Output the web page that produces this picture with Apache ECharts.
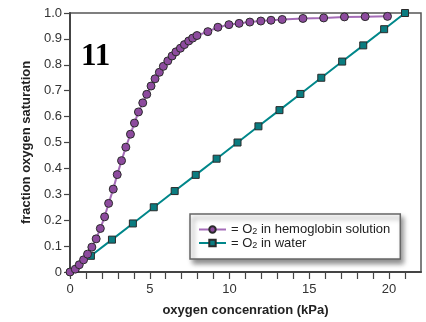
<!DOCTYPE html>
<html><head><meta charset="utf-8">
<script src="https://cdn.jsdelivr.net/npm/echarts@6/dist/echarts.min.js"></script>
<style>html,body{margin:0;padding:0;background:#fff}#c{width:426px;height:322px}</style>
</head><body><div id="c"></div>
<script>
const hbX = [0,0.33,0.58,0.85,1.1,1.37,1.64,1.9,2.17,2.42,2.71,2.96,3.23,3.5,3.79,4.04,4.29,4.56,4.81,5.08,5.33,5.6,5.85,6.13,6.4,6.64,6.92,7.17,7.44,7.69,7.96,8.64,9.27,9.96,10.6,11.27,11.96,12.6,13.3,14.6,15.9,17.2,18.5,19.9];
const hbY = [0,0.011,0.028,0.047,0.069,0.096,0.128,0.168,0.213,0.265,0.32,0.376,0.43,0.482,0.532,0.575,0.618,0.653,0.686,0.718,0.746,0.771,0.794,0.815,0.834,0.85,0.864,0.878,0.892,0.903,0.913,0.928,0.945,0.955,0.96,0.965,0.969,0.972,0.975,0.979,0.981,0.985,0.986,0.987];
const waterX = [0,1.31,2.63,3.94,5.25,6.56,7.88,9.19,10.5,11.81,13.13,14.44,15.75,17.06,18.38,19.69,21];
const waterY = [0,0.0625,0.125,0.1875,0.25,0.3125,0.375,0.4375,0.5,0.5625,0.625,0.6875,0.75,0.8125,0.875,0.9375,1.0];
const xTickLabels = [0,5,10,15,20];
const seriesNames = ['= O{sub|2} in hemoglobin solution','= O{sub|2} in water'];
const panelLabel = '11';

const chart = echarts.init(document.getElementById('c'), null, {renderer:'canvas'});
const font = 'Liberation Sans, Arial, sans-serif';
chart.setOption({
  animation:false,
  grid:{left:70,right:5,top:13,bottom:44,show:true,borderColor:'#555',borderWidth:1.5,backgroundColor:'transparent'},
  title:{text:panelLabel,left:76,top:36,textStyle:{fontFamily:'Liberation Serif, Times New Roman, serif',fontWeight:'bold',fontSize:31,color:'#000'}},
  legend:{
    orient:'vertical',left:190,top:214,
    padding:[9,10,9,8],itemGap:0,itemWidth:27,itemHeight:8,
    backgroundColor:'#fff',borderColor:'#666',borderWidth:1.5,
    shadowColor:'rgba(0,0,0,0.45)',shadowBlur:5,shadowOffsetX:3,shadowOffsetY:4,
    textStyle:{fontFamily:font,fontSize:13,color:'#222',padding:[0,0,0,0],
      rich:{sub:{fontFamily:font,fontSize:9,color:'#222',padding:[5,0,0,0]}}},
    data:seriesNames
  },
  xAxis:{type:'value',min:0,max:22,interval:1,
    name:'oxygen concenration (kPa)',nameLocation:'middle',nameGap:32,
    nameTextStyle:{fontFamily:font,fontWeight:'bold',fontSize:13,color:'#222'},
    axisLine:{lineStyle:{color:'#444',width:2}},
    axisTick:{length:7,lineStyle:{color:'#444',width:1.2}},
    axisLabel:{fontFamily:font,fontSize:13,color:'#333',margin:11,showMaxLabel:false,
      formatter:v=>xTickLabels.indexOf(v)>=0?String(v):''},
    splitLine:{show:false}},
  yAxis:{type:'value',min:0,max:1,interval:0.1,
    name:'fraction oxygen saturation',nameLocation:'middle',nameGap:36,
    nameTextStyle:{fontFamily:font,fontWeight:'bold',fontSize:13,color:'#222'},
    axisLine:{show:true,lineStyle:{color:'#444',width:2}},
    axisTick:{show:true,length:6,lineStyle:{color:'#444',width:1.2}},
    axisLabel:{fontFamily:font,fontSize:13,color:'#333',margin:8,
      formatter:v=>v===0?'0':v.toFixed(1)},
    splitLine:{show:false}},
  series:[
    {name:seriesNames[0],type:'line',z:3,
      data:hbX.map((x,i)=>[x,hbY[i]]),
      symbol:'circle',symbolSize:8,
      lineStyle:{color:'#a56cb8',width:2},
      itemStyle:{color:'#8d4b9e',borderColor:'#2a2a2a',borderWidth:1}},
    {name:seriesNames[1],type:'line',z:2,
      data:waterX.map((x,i)=>i===0?{value:[x,waterY[i]],symbol:'none'}:[x,waterY[i]]),
      symbol:'rect',symbolSize:7,
      lineStyle:{color:'#00878a',width:2},
      itemStyle:{color:'#0a7c80',borderColor:'#2a2a2a',borderWidth:1}}
  ]
});
</script></body></html>
